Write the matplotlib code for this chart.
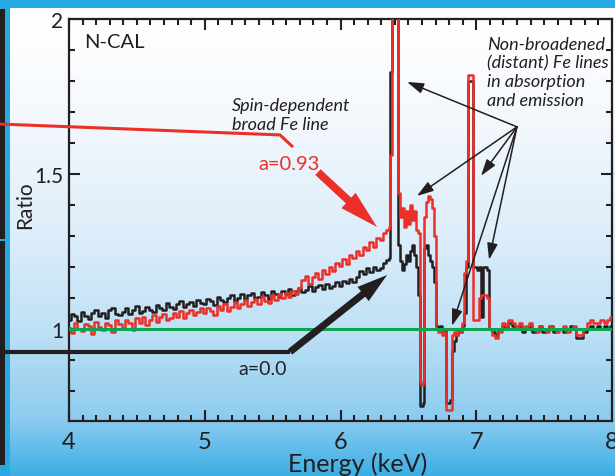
import matplotlib
matplotlib.use("Agg")
import matplotlib.pyplot as plt
import numpy as np

# ratio data
# smooth part, 4.0 - 6.35 keV in 0.025 keV bins
black_lo = [
    1.030, 1.048, 1.042, 1.027,
    1.055, 1.041, 1.033, 1.050,
    1.060, 1.042, 1.051, 1.036,
    1.061, 1.068, 1.049, 1.044,
    1.056, 1.069, 1.047, 1.061,
    1.074, 1.052, 1.058, 1.071,
    1.062, 1.054, 1.078, 1.066,
    1.060, 1.083, 1.071, 1.064,
    1.082, 1.090, 1.070, 1.079,
    1.086, 1.074, 1.095, 1.083,
    1.080, 1.098, 1.090, 1.077,
    1.104, 1.092, 1.087, 1.101,
    1.108, 1.090, 1.099, 1.112,
    1.096, 1.109, 1.116, 1.100,
    1.104, 1.120, 1.108, 1.097,
    1.122, 1.113, 1.104, 1.124,
    1.114, 1.128, 1.110, 1.121,
    1.133, 1.118, 1.126, 1.138,
    1.122, 1.135, 1.141, 1.128,
    1.145, 1.133, 1.140, 1.152,
    1.139, 1.155, 1.147, 1.162,
    1.151, 1.168, 1.186, 1.178,
    1.196, 1.184, 1.201, 1.190,
    1.198, 1.212, 1.224,
]
red_lo = [
    1.004, 0.986, 1.018, 1.000,
    0.992, 1.016, 1.008, 0.984,
    1.022, 1.006, 0.996, 1.020,
    1.012, 0.990, 1.028, 1.016,
    1.004, 1.030, 1.018, 0.998,
    1.034, 1.020, 1.040, 1.012,
    1.030, 1.044, 1.022, 1.038,
    1.048, 1.028, 1.036, 1.052,
    1.040, 1.058, 1.034, 1.050,
    1.062, 1.044, 1.056, 1.066,
    1.050, 1.068, 1.058, 1.046,
    1.074, 1.062, 1.080, 1.058,
    1.070, 1.088, 1.066, 1.082,
    1.094, 1.074, 1.086, 1.098,
    1.080, 1.102, 1.090, 1.084,
    1.108, 1.094, 1.112, 1.100,
    1.116, 1.104, 1.124, 1.112,
    1.132, 1.158, 1.172, 1.146,
    1.166, 1.182, 1.160, 1.190,
    1.176, 1.200, 1.188, 1.214,
    1.204, 1.226, 1.210, 1.240,
    1.228, 1.252, 1.238, 1.266,
    1.254, 1.280, 1.266, 1.294,
    1.286, 1.308, 1.320,
]
energy_lo = np.linspace(4.0, 6.35, len(black_lo))

# Fe line region
energy_fe = [6.36, 6.372, 6.38, 6.39, 6.40, 6.41, 6.42, 6.43, 6.445, 6.46,
             6.475, 6.49, 6.505, 6.52, 6.535, 6.55, 6.565, 6.578, 6.59, 6.60,
             6.61, 6.62, 6.635, 6.65, 6.665, 6.68, 6.695, 6.71, 6.725, 6.74,
             6.755, 6.77, 6.785, 6.80, 6.815, 6.83, 6.845, 6.86, 6.875, 6.89,
             6.905, 6.92, 6.935, 6.95, 6.96, 6.97, 6.98, 6.995, 7.01, 7.025,
             7.04, 7.055, 7.07, 7.085]
black_fe = [1.23, 1.83, 2.4, 2.4, 2.4, 2.4, 2.4, 1.27, 1.22, 1.19,
            1.21, 1.24, 1.22, 1.25, 1.27, 1.24, 1.20, 1.11, 0.75, 0.75,
            0.76, 1.26, 1.27, 1.24, 1.22, 1.20, 1.15, 1.01, 1.00, 1.01,
            0.99, 1.00, 0.76, 0.76, 0.77, 0.93, 0.96, 0.98, 0.99, 0.99,
            1.01, 1.05, 1.20, 1.80, 1.80, 1.80, 1.20, 1.20, 1.19, 1.20,
            1.04, 1.20, 1.20, 1.19]
red_fe = [1.33, 1.56, 2.4, 2.4, 2.4, 2.4, 2.4, 1.44, 1.36, 1.39,
          1.33, 1.38, 1.34, 1.40, 1.35, 1.38, 1.32, 1.31, 0.83, 0.82,
          0.83, 1.36, 1.41, 1.43, 1.42, 1.39, 1.30, 1.00, 0.99, 1.00,
          0.98, 0.99, 0.74, 0.74, 0.74, 0.98, 0.99, 0.98, 1.00, 0.99,
          1.02, 1.18, 1.22, 1.82, 1.82, 1.82, 1.03, 1.03, 1.03, 1.10,
          1.11, 1.11, 1.11, 1.10]

# continuum above the lines, 7.1 - 8.0 keV
black_hi = [1.00, 0.99, 0.98, 1.00, 1.01, 1.00, 1.02, 1.01, 1.00, 1.01,
            0.99, 1.00, 1.01, 0.99, 1.00, 1.01, 0.99, 1.00, 1.01, 0.99,
            1.00, 1.00, 0.99, 1.00, 1.01, 1.00, 0.97, 0.97, 0.99, 1.00,
            1.01, 1.00, 1.01, 1.00, 1.01, 1.00, 1.01]
red_hi = [1.00, 0.98, 0.97, 0.99, 1.02, 1.01, 1.03, 1.02, 1.01, 1.02,
          1.00, 1.01, 1.02, 1.00, 0.99, 1.01, 1.00, 0.99, 1.01, 1.00,
          0.99, 1.00, 1.01, 0.99, 1.00, 1.01, 0.98, 0.98, 1.00, 1.02,
          1.03, 1.02, 1.02, 1.03, 1.02, 1.03, 1.04]
energy_hi = np.linspace(7.1, 8.0, len(black_hi))

energy = np.concatenate([energy_lo, energy_fe, energy_hi])
ratio_a0 = np.concatenate([black_lo, black_fe, black_hi])
ratio_a093 = np.concatenate([red_lo, red_fe, red_hi])

x_ticks = [4, 5, 6, 7, 8]
y_ticks = [1, 1.5, 2]
y_tick_labels = ["1", "1.5", "2"]

RED = "#ec2f27"
BLACK = "#231f20"
GREEN = "#0aa54f"
BLUE = "#27aae1"

plt.rcParams["font.family"] = ["Lato", "DejaVu Sans"]

W, H = 615, 477
fig = plt.figure(figsize=(W / 100, H / 100), dpi=100)

# background: blue/white vertical gradient with the strips on the left
rows = np.arange(H)
stops_y = [8, 40, 120, 240, 330, 420, 477]
stops_c = np.array([[255, 255, 255], [254, 254, 255], [243, 248, 253],
                    [220, 237, 250], [191, 225, 246], [140, 203, 239],
                    [58, 174, 229]]) / 255.0
grad = np.stack([np.interp(rows, stops_y, stops_c[:, k]) for k in range(3)], axis=1)
img = np.repeat(grad[:, None, :], W, axis=1)
blue = np.array(matplotlib.colors.to_rgb(BLUE))
img[:9, :, :] = blue
img[:, :10, :] = blue
img[10:466, :5, :] = matplotlib.colors.to_rgb(BLACK)
img[240:242, :5, :] = blue

bg = fig.add_axes([0, 0, 1, 1])
bg.imshow(img, aspect="auto", interpolation="nearest")
bg.axis("off")

ax = fig.add_axes([69 / W, 1 - 422 / H, 543 / W, 402 / H])
ax.set_facecolor("none")

ax.plot(energy, ratio_a0, color=BLACK, lw=1.8, drawstyle="steps-mid", zorder=3)
ax.plot(energy, ratio_a093, color=RED, lw=1.8, drawstyle="steps-mid", zorder=4)
ax.axhline(1.0, color=GREEN, lw=2.2, zorder=5)

ax.set_xlim(4, 8)
ax.set_ylim(0.703, 2.0)
ax.set_xticks(x_ticks)
ax.set_xticks(np.arange(4, 8.01, 0.1), minor=True)
ax.set_yticks(y_ticks)
ax.set_yticklabels(y_tick_labels)
ax.set_yticks(np.arange(0.8, 2.0, 0.1), minor=True)
ax.tick_params(which="both", direction="in", top=True, right=True,
               color=BLACK, width=1.5)
ax.tick_params(which="major", length=8)
ax.tick_params(which="minor", length=4.5)
ax.tick_params(axis="x", labelsize=17, pad=7, labelcolor=BLACK)
ax.tick_params(axis="y", labelsize=15, pad=4, labelcolor=BLACK)
for s in ax.spines.values():
    s.set_linewidth(1.6)
    s.set_color(BLACK)

ax.set_xlabel("Energy (keV)", fontsize=18, color=BLACK)
ax.xaxis.set_label_coords(0.532, -0.075)
ax.set_ylabel("Ratio", fontsize=15, color=BLACK)
ax.yaxis.set_label_coords(-0.062, 0.54)

# annotations
ax.text(4.11, 1.929, "N-CAL", fontsize=14.5, color=BLACK, va="center")
ax.text(5.20, 1.692, "Spin-dependent\nbroad Fe line", fontsize=13,
        style="italic", color=BLACK, va="center", linespacing=1.25)
ax.text(5.392, 1.535, "a=0.93", fontsize=14.5, color=RED, va="center")
ax.text(5.245, 0.871, "a=0.0", fontsize=14, color=BLACK, va="center")
ax.text(7.079, 1.829, "Non-broadened\n(distant) Fe lines\nin absorption\nand emission",
        fontsize=13, style="italic", color=BLACK, va="center", linespacing=1.22)

# red callout line running in from the left edge, with the fat arrow
ax.plot([3.492, 5.554, 5.650], [1.661, 1.626, 1.587], color=RED, lw=2.2,
        clip_on=False, solid_capstyle="butt", zorder=6)
ax.annotate("", xy=(6.269, 1.329), xytext=(5.834, 1.506), annotation_clip=False,
            arrowprops=dict(arrowstyle="simple,head_length=1.4,head_width=0.75,tail_width=0.28",
                            mutation_scale=20, color=RED, lw=0, shrinkA=0, shrinkB=0),
            zorder=6)

# black callout line and arrow
ax.plot([3.492, 5.628], [0.926, 0.926], color=BLACK, lw=3, clip_on=False,
        solid_capstyle="butt", zorder=6)
ax.annotate("", xy=(6.343, 1.174), xytext=(5.628, 0.926), annotation_clip=False,
            arrowprops=dict(arrowstyle="simple,head_length=1.1,head_width=0.65,tail_width=0.25",
                            mutation_scale=20, color=BLACK, lw=0, shrinkA=0, shrinkB=0),
            zorder=6)

# thin arrows to the narrow lines
hub = (7.300, 1.652)
targets = [(6.490, 1.797), (6.563, 1.429), (7.035, 1.494), (6.821, 1.010), (7.094, 1.223)]
for t in targets:
    ax.annotate("", xy=t, xytext=hub, annotation_clip=False,
                arrowprops=dict(arrowstyle="-|>,head_length=0.5,head_width=0.16",
                                mutation_scale=20, color=BLACK, lw=1.1,
                                shrinkA=0, shrinkB=0),
                zorder=7)

fig.savefig("out.png", dpi=100)
